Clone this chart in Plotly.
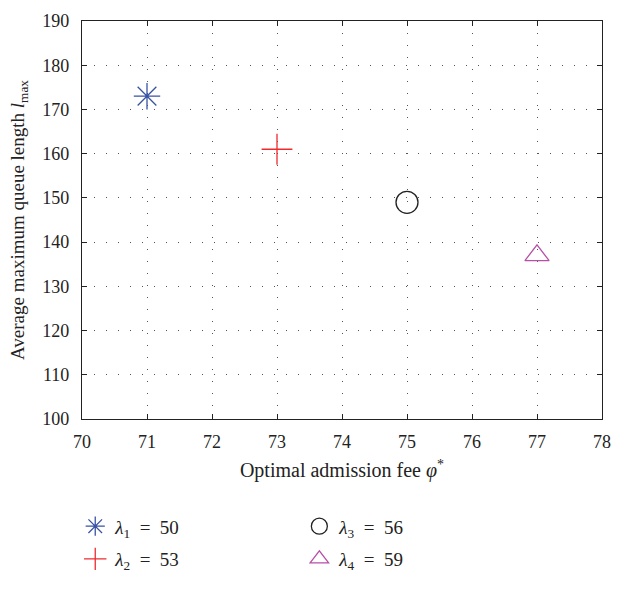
import plotly.graph_objects as go

fee = [71, 73, 75, 77]
qlen = [173, 161, 149, 137]
names = ["<i>λ</i><sub>1</sub>\u2002=\u200250", "<i>λ</i><sub>2</sub>\u2002=\u200253",
         "<i>λ</i><sub>3</sub>\u2002=\u200256", "<i>λ</i><sub>4</sub>\u2002=\u200259"]
symbols = ["asterisk-open", "cross-thin-open", "circle-open", "triangle-up-open"]
colors = ["#3953A4", "#EE2A2E", "#222222", "#B84FA6"]
sizes = [22, 22, 22, 21]
legends = ["legend", "legend", "legend2", "legend2"]

x_ticks = list(range(70, 79))
y_ticks = list(range(100, 191, 10))

fig = go.Figure()
for i in range(4):
    fig.add_trace(go.Scatter(
        x=[fee[i]], y=[qlen[i]], mode="markers", name=names[i],
        legend=legends[i], legendgroup=f"g{i}",
        marker=dict(symbol=symbols[i], color=colors[i], size=sizes[i],
                    line=dict(width=1.3, color=colors[i]))))

font = "Liberation Serif, Times New Roman, serif"
axis_common = dict(showline=True, linecolor="#222222", linewidth=1.3, mirror="ticks",
                   ticks="inside", ticklen=5, tickcolor="#222222",
                   showgrid=True, gridcolor="#555555", gridwidth=1,
                   griddash="1px,11px", zeroline=False,
                   tickfont=dict(size=18, color="#222222", family=font))

fig.update_xaxes(range=[70, 78], tickvals=x_ticks, ticklabelstandoff=6,
                 title=dict(text="Optimal admission fee <i>φ</i><sup>*</sup>",
                            font=dict(size=20, family=font, color="#222222"), standoff=12),
                 **axis_common)
fig.update_yaxes(range=[100, 190], tickvals=y_ticks, ticklabelstandoff=8,
                 title=dict(text="Average maximum queue length <i>l</i><sub>max</sub>",
                            font=dict(size=19, family=font, color="#222222"), standoff=12),
                 **axis_common)

leg_common = dict(font=dict(size=19, family=font, color="#222222"),
                  bgcolor="rgba(0,0,0,0)", tracegroupgap=5,
                  xanchor="left", yanchor="top", orientation="v")
fig.update_layout(
    width=622, height=590,
    margin=dict(l=82, r=11, t=13, b=161),
    paper_bgcolor="white", plot_bgcolor="white",
    font=dict(family=font),
    legend=dict(x=-0.013, y=-0.222, **leg_common),
    legend2=dict(x=0.418, y=-0.222, **leg_common),
)

fig.write_html("out.html")
